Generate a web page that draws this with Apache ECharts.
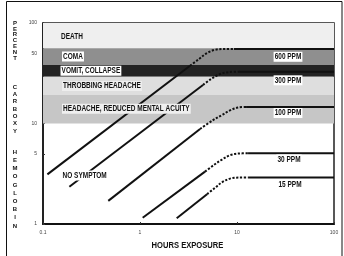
<!DOCTYPE html>
<html><head><meta charset="utf-8">
<script src="https://cdn.jsdelivr.net/npm/echarts@6/dist/echarts.min.js"></script>
<style>html,body{margin:0;padding:0;background:#fff}#c{width:344px;height:256px}</style>
</head><body><div id="c"></div>
<script>
// ---- data ----
const xTicks = [0.1, 1, 10, 100];
const yTicks = [1, 5, 10, 50, 100];

const bandNames  = ['DEATH', 'COMA', 'VOMIT, COLLAPSE', 'THROBBING HEADACHE', 'HEADACHE, REDUCED MENTAL ACUITY'];
const bandLower  = [56, 38.2, 29.2, 19.2, 10];
const bandUpper  = [100, 56, 38.2, 29.2, 19.2];
const noSymptomLabel = 'NO SYMPTOM';

const ppmNames = ['600 PPM', '300 PPM', '100 PPM', '30 PPM', '15 PPM'];
// solid rising part
const rise600 = [[0.111, 3.12], [3.28, 37.5]];
const rise300 = [[0.187, 2.35], [4.46, 24.2]];
const rise100 = [[0.471, 1.70], [4.16, 8.82]];
const rise30  = [[1.066, 1.155], [4.68, 3.32]];
const rise15  = [[2.39, 1.14], [4.91, 1.98]];
// dashed bend
const bend600 = [[3.28, 37.5], [4.06, 43.8], [4.91, 50.3], [5.93, 54.1], [7.52, 55.1], [9.31, 55.1]];
const bend300 = [[4.46, 24.2], [5.40, 27.7], [6.52, 30.7], [8.08, 32.4], [10.7, 32.8]];
const bend100 = [[4.16, 8.82], [5.66, 10.8], [7.00, 12.15], [8.47, 13.5], [10.2, 14.4], [12.4, 14.6]];
const bend30  = [[4.68, 3.32], [5.79, 3.87], [7.00, 4.38], [8.47, 4.84], [10.5, 5.03], [13.0, 5.05]];
const bend15  = [[4.91, 1.98], [5.93, 2.29], [7.00, 2.60], [8.47, 2.83], [10.5, 2.895], [13.0, 2.90]];
// solid plateau
const flat600 = [[9.31, 55.1], [100, 55.1]];
const flat300 = [[10.7, 32.8], [100, 32.8]];
const flat100 = [[12.4, 14.6], [100, 14.6]];
const flat30  = [[13.0, 5.05], [100, 5.05]];
const flat15  = [[13.0, 2.90], [100, 2.90]];

const rises = [rise600, rise300, rise100, rise30, rise15];
const bends = [bend600, bend300, bend100, bend30, bend15];
const flats = [flat600, flat300, flat100, flat30, flat15];

// ---- styling ----
const FONT = "'Liberation Sans', Arial, sans-serif";
const bandColors = ['#efefef', '#8f8f8f', '#232323', '#dedede', '#c6c6c6'];

const chart = echarts.init(document.getElementById('c'), null, {renderer: 'canvas'});

const series = [];
series.push({
  type: 'line', data: [], silent: true,
  markArea: {
    silent: true,
    itemStyle: {opacity: 1},
    data: bandNames.map((n, i) => [
      {yAxis: bandLower[i], itemStyle: {color: bandColors[i]}},
      {yAxis: bandUpper[i]}
    ])
  }
});
for (let i = 0; i < ppmNames.length; i++) {
  const base = {type: 'line', showSymbol: false, symbol: 'none', silent: true, z: 3};
  series.push(Object.assign({}, base, {name: ppmNames[i], data: rises[i],
    lineStyle: {color: '#111', width: 2}}));
  series.push(Object.assign({}, base, {data: bends[i], smooth: 0.35,
    lineStyle: {color: '#111', width: 2, type: [2.2, 1.6]}}));
  series.push(Object.assign({}, base, {data: flats[i],
    lineStyle: {color: '#111', width: 2}}));
}

function lbl(text, x, y, bg, align) {
  return {
    type: 'text', x: x, y: y, z: 100, scaleX: 0.72,
    style: {
      text: text, fill: '#111', font: 'bold 9px ' + FONT,
      align: align || 'left', verticalAlign: 'middle',
      backgroundColor: bg || null, padding: bg ? [1, 1.5, 0, 1.5] : 0
    }
  };
}
function vtitle(word, x, top, lh) {
  return {
    type: 'text', x: x, y: top, z: 100,
    style: {
      text: word.split('').join('\n'), fill: '#111', font: 'bold 6px ' + FONT,
      align: 'center', verticalAlign: 'top', lineHeight: lh
    }
  };
}

const graphics = [
  {type: 'rect', shape: {x: 6.5, y: 1.5, width: 335.5, height: 262}, style: {fill: null, stroke: '#111', lineWidth: 1}, z: 100},
  lbl(bandNames[0], 61, 37, null),
  lbl(bandNames[1], 62, 56.5, '#fff'),
  lbl(bandNames[2], 60.5, 70.8, '#fff'),
  lbl(bandNames[3], 62, 86, '#eeeeee'),
  lbl(bandNames[4], 62, 108.8, '#efefef'),
  lbl(noSymptomLabel, 61.5, 175.5, '#fff'),
  lbl(ppmNames[0], 288, 56.8, '#fff', 'center'),
  lbl(ppmNames[1], 288, 80.3, '#fff', 'center'),
  lbl(ppmNames[2], 288, 113, '#fff', 'center'),
  lbl(ppmNames[3], 289, 159.5, '#fff', 'center'),
  lbl(ppmNames[4], 290, 184.2, '#fff', 'center'),
  vtitle('PERCENT', 15, 20, 5.9),
  vtitle('CARBOXY', 15, 83.5, 7.3),
  vtitle('HEMOGLOBIN', 15, 148, 8.2),
  {type: 'text', x: 187.5, y: 245.5, z: 100, scaleX: 0.8,
   style: {text: 'HOURS EXPOSURE', fill: '#111', font: 'bold 9.5px ' + FONT, align: 'center', verticalAlign: 'middle'}}
];

chart.setOption({
  animation: false,
  backgroundColor: '#fff',
  grid: {left: 43, right: 10, top: 23, bottom: 32, show: true, borderColor: '#222', borderWidth: 1.5, backgroundColor: 'transparent'},
  xAxis: {
    type: 'log', logBase: 10, min: xTicks[0], max: xTicks[xTicks.length - 1],
    axisLine: {show: true, lineStyle: {color: '#111', width: 2}},
    axisTick: {show: true, inside: true, length: 2, lineStyle: {color: '#333'}},
    axisLabel: {fontSize: 5, color: '#444', fontFamily: FONT, margin: 6,
      formatter: v => { const t = xTicks.find(k => Math.abs(k - v) / k < 1e-6); return t === undefined ? '' : String(t); }},
    splitLine: {show: false}, minorTick: {show: false}
  },
  yAxis: [{
    type: 'log', logBase: 10, min: yTicks[0], max: yTicks[yTicks.length - 1],
    axisLine: {show: true, lineStyle: {color: '#111', width: 1.5}},
    axisTick: {show: false},
    axisLabel: {show: false},
    splitLine: {show: false}
  }, {
    type: 'value', min: 0, max: Math.log10(yTicks[yTicks.length - 1]), position: 'left',
    axisLine: {show: false},
    axisTick: {show: true, inside: true, length: 2, customValues: yTicks.map(v => Math.log10(v)), lineStyle: {color: '#333'}},
    axisLabel: {show: true, fontSize: 5, color: '#444', fontFamily: FONT, margin: 6,
      customValues: yTicks.map(v => Math.log10(v)),
      formatter: v => String(Math.round(Math.pow(10, v)))},
    splitLine: {show: false}
  }],
  series: series,
  graphic: graphics
});
</script>
</body></html>
